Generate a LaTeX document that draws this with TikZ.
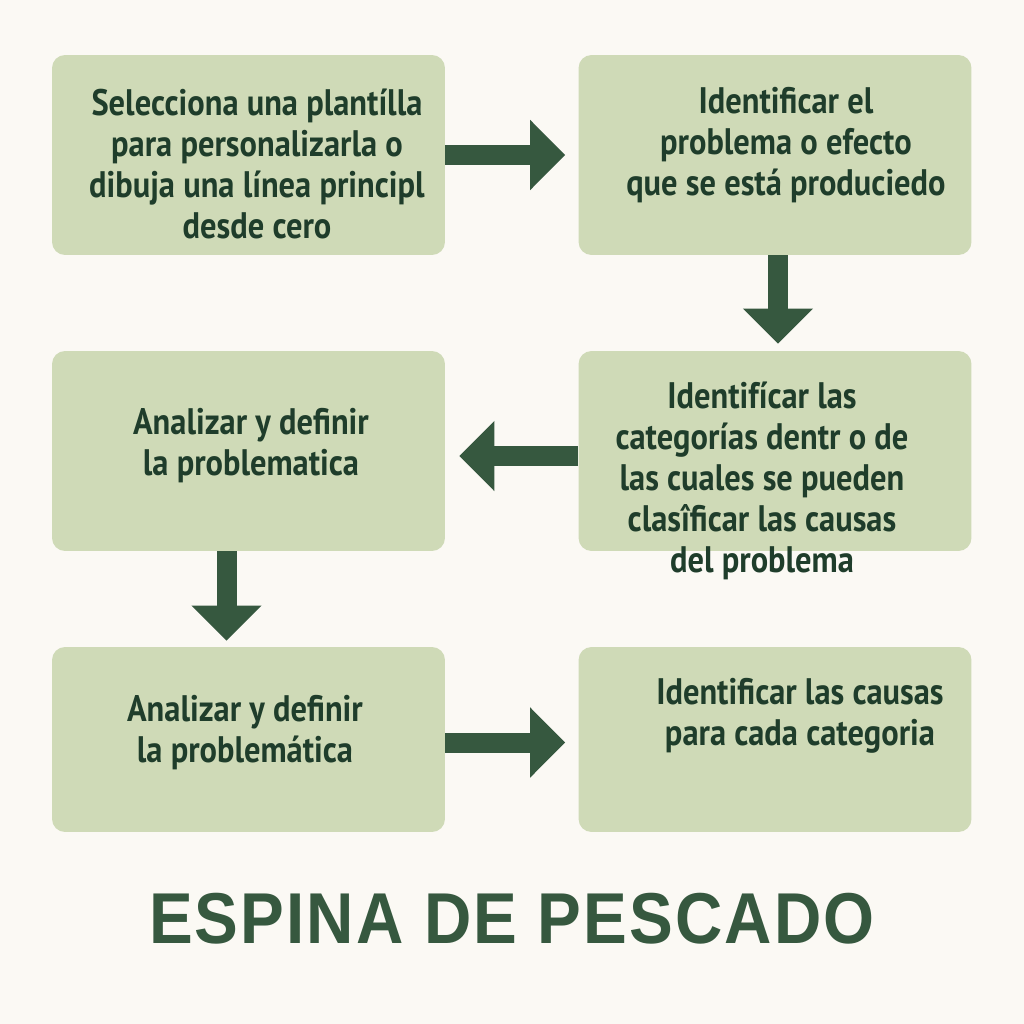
\documentclass[tikz,border=0pt]{standalone}
\usepackage{fontspec}
\setmainfont{PT Sans}[FakeStretch=0.88]
\newfontfamily\titlefont{Liberation Sans}[FakeStretch=0.91, LetterSpace=3]
\usetikzlibrary{arrows.meta}
\definecolor{paper}{HTML}{FBF9F4}
\definecolor{sage}{HTML}{CFDAB7}
\definecolor{pine}{HTML}{1F3D2B}
\definecolor{arrowgreen}{HTML}{36583F}
\begin{document}
\begin{tikzpicture}[
      x=0.02cm, y=-0.02cm,
      stepbox/.style={rectangle, rounded corners=0.26cm, fill=sage,
        minimum width=7.86cm, minimum height=4cm, inner sep=0pt},
      steptext/.style={text=pine, align=center, inner sep=0pt,
        font=\fontsize{21}{23.4}\selectfont\bfseries},
      flow/.style={draw=arrowgreen, line width=0.4cm,
        -{Triangle[width=1.36cm, length=0.7cm]}}
  ]

  % Background
  \fill[paper] (0,0) rectangle (1024,1024);

  % Boxes
  \node[stepbox] (b1) at (248.5,155) {};
  \node[stepbox] (b2) at (775,155) {};
  \node[stepbox] (b3) at (248.5,451) {};
  \node[stepbox] (b4) at (775,451) {};
  \node[stepbox, minimum height=3.7cm] (b5) at (248.5,739.5) {};
  \node[stepbox, minimum height=3.7cm] (b6) at (775,739.5) {};

  % Texts
  \node[steptext] (t1) at (257,164) {Selecciona una plantílla\\para personalizarla o\\dibuja una línea principl\\desde cero};
  \node[steptext] (t2) at (786,145) {Identificar el\\problema o efecto\\que se está produciedo};
  \node[steptext] (t3) at (251,446) {Analizar y definir\\la problematica};
  \node[steptext] (t4) at (762,481) {Identifícar las\\categorías dentr o de\\las cuales se pueden\\clasîficar las causas\\del problema};
  \node[steptext] (t5) at (245,733) {Analizar y definir\\la problemática};
  \node[steptext] (t6) at (800,716) {Identificar las causas\\para cada categoria};

  % Arrows
  \draw[flow, shorten >=0.26cm] (b1.east) -- (b2.west);
  \draw[flow, shorten >=0.14cm] ([xshift=0.06cm]b2.south) -- ([xshift=0.06cm]b4.north);
  \draw[flow, shorten >=0.28cm] ([yshift=-0.1cm]b4.west) -- ([yshift=-0.1cm]b3.east);
  \draw[flow, shorten >=0.12cm] ([xshift=-0.44cm]b3.south) -- ([xshift=-0.44cm]b5.north);
  \draw[flow, shorten >=0.26cm] ([yshift=-0.06cm]b5.east) -- ([yshift=-0.06cm]b6.west);

  % Title
  \node[text=arrowgreen, font=\titlefont\fontsize{41}{41}\selectfont\bfseries] (title) at (512,919) {ESPINA DE PESCADO};

\end{tikzpicture}
\end{document}
